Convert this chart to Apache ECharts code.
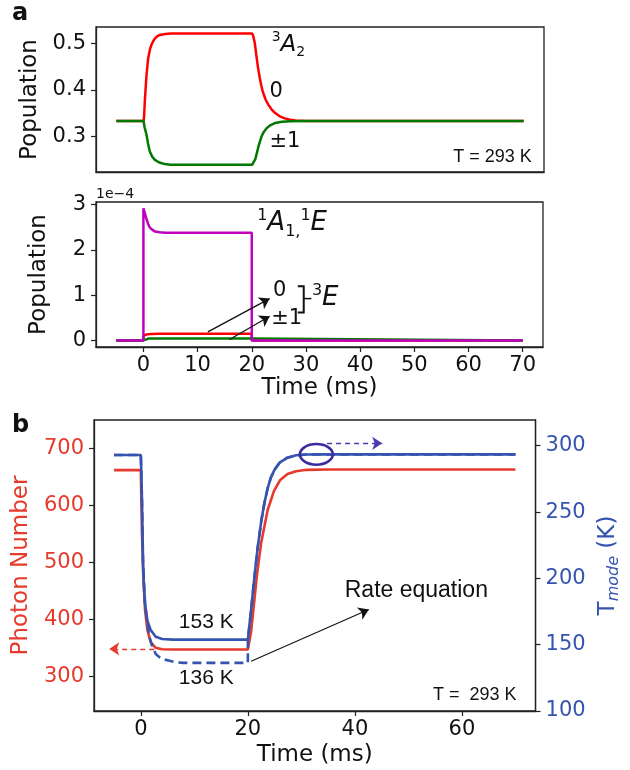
<!DOCTYPE html>
<html><head><meta charset="utf-8">
<script src="https://cdn.jsdelivr.net/npm/echarts@6/dist/echarts.min.js"></script>
<style>html,body{margin:0;padding:0;background:#fff}#c{width:630px;height:770px}</style>
</head><body><div id="c"></div>
<script>
// ---------- Panel a (top): 3A2 populations ----------
const tA2zero = [-5,0,0.1,0.25,0.55,0.85,1.2,1.5,2,2.5,3,4,5,20,20.2,20.5,20.8,21.1,21.4,21.7,22,22.5,23,23.6,24.2,25,26,27,28,30,33,70];
const popA2zero = [0.3333,0.3333,0.342,0.378,0.432,0.467,0.488,0.498,0.509,0.515,0.518,0.520,0.521,0.521,0.516,0.500,0.472,0.447,0.426,0.409,0.395,0.379,0.368,0.358,0.351,0.344,0.339,0.336,0.3345,0.3336,0.3333,0.3333];
const tA2pm1 = [-5,0,0.2,0.55,0.85,1.16,1.6,2.1,2.8,3.9,5,20,20.3,20.6,20.9,21.2,21.5,21.8,22.2,22.7,23.3,24.2,25.5,27,30,70];
const popA2pm1 = [0.3333,0.3333,0.320,0.304,0.284,0.268,0.257,0.250,0.245,0.241,0.2395,0.2394,0.241,0.252,0.266,0.280,0.292,0.302,0.311,0.318,0.324,0.329,0.3317,0.3328,0.3333,0.3333];
// ---------- Panel a (bottom): singlet & 3E populations (x 1e-4) ----------
const tSing = [-5,0,0,0.3,0.55,0.85,1.16,1.6,2.1,3,4,6,20,20,70];
const popSing = [0,0,2.92,2.80,2.69,2.58,2.50,2.45,2.41,2.39,2.38,2.38,2.38,0,0];
const tEzero = [-5,0,0,0.5,1.5,3,10,20,20,70];
const popEzero = [0,0,0.10,0.13,0.145,0.15,0.15,0.15,0,0];
const tEpm1 = [-5,0,0,1,20,20,70];
const popEpm1 = [0,0,0.035,0.042,0.042,0,0];
// ---------- Panel b ----------
const tPhoton = [-5,0,0.2,0.42,0.79,1.23,1.85,2.77,4,6,20,20.6,21.2,21.7,22.5,23.7,24.9,26,27.4,29,31,35,70];
const photonNumber = [662,662,556,486,416,381,360,350,347.5,347,347,378,432,478,535,592,626,644,655,660,662.5,663,663];
const tMode = [-5,0,0.2,0.42,0.6,0.79,1.23,1.85,2.77,4,6,20,20.6,21.2,21.8,22.5,23.1,23.7,24.3,25,26,27.4,29,31,35,70];
const tModeK = [293,293,262,211,192,181,168,161,156,154.3,153.8,153.8,176,200,222,243,257,268,276,282,287.5,291,292.8,293.4,293.5,293.5];
const tRate = [-5,0,0.2,0.42,0.79,1.23,1.6,2.15,2.8,3.4,4.2,5.2,6.5,8,20,20,20.6,21.2,21.8,22.5,23.1,23.7,24.3,25,26,27.4,29,31,35,70];
const rateK = [293,293,262,211,181,166,156,148.3,143,140.8,139,138,136.8,136.3,136.3,153.8,176,200,222,243,257,268,276,282,287.5,291,292.8,293.4,293.5,293.5];
// ---------- ticks ----------
const xTicksA = [0,10,20,30,40,50,60,70];
const xTicksB = [0,20,40,60];
const yTicksA2 = [0.3,0.4,0.5];
const yTicksS = [0,1,2,3];
const yTicksPhoton = [300,400,500,600,700];
const yTicksT = [100,150,200,250,300];

const D = "DejaVu Sans";
const L = "Liberation Sans";
const FR = '#222';
const RED_B = '#e53a2c', BLUE_B = '#3454b0';
const zip = (xs, ys) => xs.map((x, i) => [x, ys[i]]);

const chart = echarts.init(document.getElementById('c'));

function xAx(gi, ticks, name, gap) {
  return {
    type:'value', gridIndex:gi, min:-8.75, max:73.75,
    axisLine:{show:true, onZero:false, lineStyle:{color:FR, width:1.3}},
    axisTick:{show:!!ticks, length:5, lineStyle:{color:FR, width:1.2}, customValues:ticks||[]},
    axisLabel:{show:!!ticks, customValues:ticks||[], margin:8, fontSize:21, fontFamily:D, color:'#111'},
    splitLine:{show:false},
    name:name||'', nameLocation:'middle', nameGap:gap||0,
    nameTextStyle:{fontSize:23, fontFamily:D, color:'#111'}
  };
}
function yAx(gi, min, max, ticks, name, gap, color, pos) {
  return {
    type:'value', gridIndex:gi, min, max, position:pos||'left',
    axisLine:{show:true, onZero:false, lineStyle:{color:FR, width:1.3}},
    axisTick:{show:true, length:5, lineStyle:{color:FR, width:1.2}, customValues:ticks},
    axisLabel:{customValues:ticks, margin:10, fontSize:21, fontFamily:D, color:color||'#111'},
    splitLine:{show:false},
    name, nameLocation:'middle', nameGap:gap,
    nameTextStyle:{fontSize:23, fontFamily:D, color:color||'#111'}
  };
}
function line(xi, yi, data, color, width, extra) {
  return Object.assign({type:'line', xAxisIndex:xi, yAxisIndex:yi, data, showSymbol:false, symbol:'none',
    lineStyle:{color, width}, animation:false, silent:true}, extra||{});
}
function arrowML(pairs, color, width, type) {
  return {silent:true, animation:false, symbol:['none','arrow'], symbolSize:10,
    label:{show:false}, lineStyle:{color, width, type:type||'solid'}, emphasis:{disabled:true},
    data: pairs.map(p => [{coord:p[0]}, {coord:p[1]}])};
}

const gridStyle = {show:true, borderColor:FR, borderWidth:1.3, backgroundColor:'rgba(0,0,0,0)'};
const yRight = yAx(2, 100, 319.4, yTicksT, '{a|T}{b|mode}{a| (K)}', 55, BLUE_B, 'right');
yRight.nameTextStyle.rich = {
  a:{fontSize:23, fontFamily:D, color:BLUE_B, lineHeight:28},
  b:{fontSize:16, fontFamily:D, fontStyle:'italic', color:BLUE_B, lineHeight:16, verticalAlign:'bottom'}
};

chart.setOption({
  animation:false,
  grid:[
    Object.assign({left:96, top:27, width:448, height:145}, gridStyle),
    Object.assign({left:96, top:202, width:447, height:145}, gridStyle),
    Object.assign({left:94, top:420, width:448, height:291}, gridStyle)
  ],
  xAxis:[ xAx(0, null), xAx(1, xTicksA, 'Time (ms)', 30), xAx(2, xTicksB, 'Time (ms)', 33) ],
  yAxis:[
    yAx(0, 0.224, 0.535, yTicksA2, 'Population', 45),
    yAx(1, -0.145, 3.06, yTicksS, 'Population', 45),
    yAx(2, 239, 750, yTicksPhoton, 'Photon Number', 52, RED_B),
    yRight
  ],
  series:[
    line(0,0, zip(tA2zero, popA2zero), '#ff0000', 2.5),
    line(0,0, zip(tA2pm1, popA2pm1), '#007a00', 2.5),
    line(1,1, zip(tEzero, popEzero), '#ff0000', 2.5, {markLine: arrowML([[[11.9,0.19],[23.3,0.925]],[[15.9,0.02],[23.3,0.535]]], '#111', 1.3)}),
    line(1,1, zip(tEpm1, popEpm1), '#007a00', 2.5),
    line(1,1, zip(tSing, popSing), '#bf00bf', 2.5),
    line(2,2, zip(tPhoton, photonNumber), RED_B, 2.6, {markLine: arrowML([[[2.5,348],[-5.9,348]]], RED_B, 1.4, [5,4])}),
    line(2,3, zip(tRate, rateK), BLUE_B, 2.6, {lineStyle:{color:BLUE_B, width:2.6, type:[9,5]},
      markLine: arrowML([[[20.6,137.5],[42.6,176.5]]], '#111', 1.1)}),
    line(2,3, zip(tMode, tModeK), BLUE_B, 2.6, {markLine: arrowML([[[34.8,301.8],[45.1,301.8]]], '#4a3cb0', 1.4, [5,4])})
  ]
});

function P(si, x, y) { return chart.convertToPixel({seriesIndex:si}, [x, y]); }
function txt(si, x, y, text, st) {
  const p = P(si, x, y);
  return {type:'text', x:p[0], y:p[1], silent:true, z:100,
    style:Object.assign({text, fill:'#111', fontFamily:D, fontSize:21, align:'left', verticalAlign:'middle'}, st||{})};
}
function richLbl(size) {
  return {
    sup:{fontSize:Math.round(size*0.62), fontFamily:D, fill:'#111', verticalAlign:'top', lineHeight:Math.round(size*0.62)},
    it:{fontSize:size, fontFamily:D, fontStyle:'italic', fill:'#111', lineHeight:size+6},
    sub:{fontSize:Math.round(size*0.62), fontFamily:D, fill:'#111', verticalAlign:'bottom', lineHeight:Math.round(size*0.62)}
  };
}
const br = [[28.49,1.196],[29.59,1.196],[29.59,0.617],[28.49,0.617]].map(q => P(2, q[0], q[1]));
const brTick = [[29.59,0.925],[31.0,0.925]].map(q => P(2, q[0], q[1]));
const ell = P(7, 32.8, 293.5);
const corner = P(2, -8.75, 3.06);

chart.setOption({graphic:[
  {type:'text', x:12, y:14, silent:true, style:{text:'a', fontFamily:D, fontWeight:'bold', fontSize:24, fill:'#111', verticalAlign:'middle'}},
  {type:'text', x:12, y:426, silent:true, style:{text:'b', fontFamily:D, fontWeight:'bold', fontSize:24, fill:'#111', verticalAlign:'middle'}},
  txt(0, 23.6, 0.4964, '{sup|3}{it|A}{sub|2}', {rich:richLbl(23)}),
  txt(0, 23.2, 0.3957, '0'),
  txt(0, 23.2, 0.2886, '±1'),
  txt(0, 71.5, 0.2565, 'T = 293 K', {fontFamily:L, fontSize:18, align:'right'}),
  {type:'text', x:corner[0], y:corner[1]-8, silent:true, style:{text:'1e\u22124', fontFamily:D, fontSize:14, fill:'#111', verticalAlign:'middle'}},
  txt(2, 21.0, 2.58, '{sup|1}{it|A}{sub|1,}{sup|1}{it|E}', {rich:richLbl(26)}),
  txt(2, 23.9, 1.11, '0'),
  txt(2, 23.6, 0.49, '±1'),
  txt(2, 31.1, 0.93, '{sup|3}{it|E}', {rich:richLbl(26)}),
  {type:'polyline', silent:true, shape:{points:br}, style:{stroke:'#111', lineWidth:2, fill:null}},
  {type:'polyline', silent:true, shape:{points:brTick}, style:{stroke:'#111', lineWidth:1.5, fill:null}},
  txt(5, 7.1, 394.9, '153 K', {fontFamily:L, fontSize:21}),
  txt(5, 7.1, 296.5, '136 K', {fontFamily:L, fontSize:21}),
  txt(5, 38.1, 450, 'Rate equation', {fontFamily:L, fontSize:23}),
  txt(5, 70.2, 266.6, 'T =  293 K', {fontFamily:L, fontSize:18, align:'right'}),
  {type:'ellipse', silent:true, z:100, shape:{cx:ell[0], cy:ell[1], rx:16.5, ry:10.3}, style:{stroke:'#3a2ca0', lineWidth:2.5, fill:null}}
]});
</script></body></html>
